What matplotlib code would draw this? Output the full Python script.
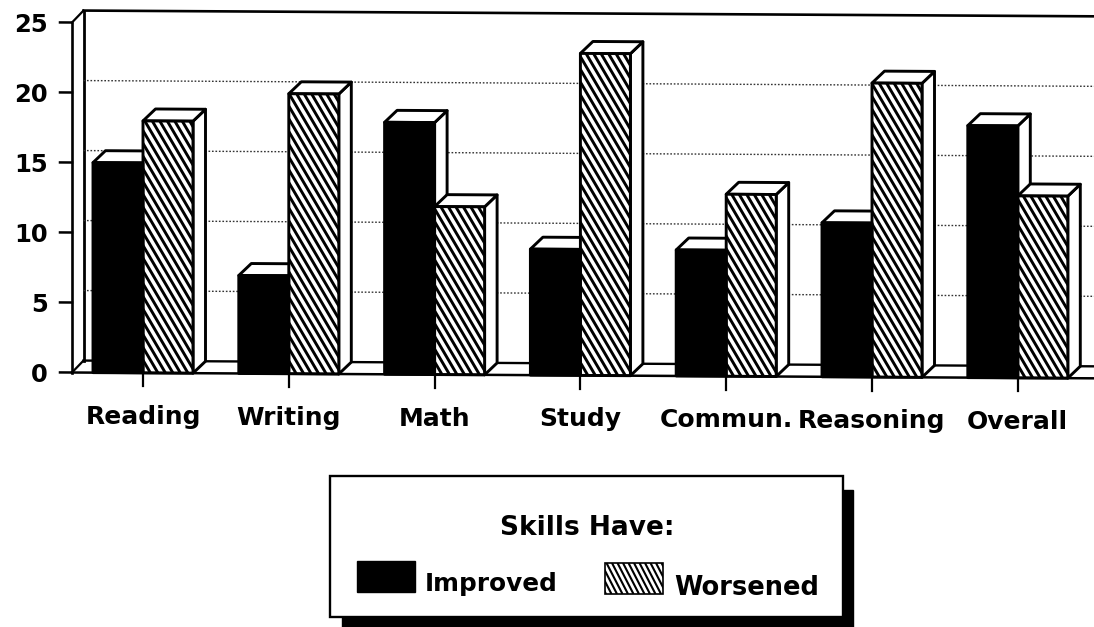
import numpy as np
import matplotlib
matplotlib.use("Agg")
import matplotlib.pyplot as plt
from matplotlib.patches import Polygon, Rectangle
from matplotlib.transforms import Affine2D

categories = ["Reading", "Writing", "Math", "Study", "Commun.", "Reasoning", "Overall"]
improved = [15, 7, 18, 9, 9, 11, 18]
worsened = [18, 20, 12, 23, 13, 21, 13]
yticks = [0, 5, 10, 15, 20, 25]
legend_title = "Skills Have:"
series_names = ["Improved", "Worsened"]

plt.rcParams["font.family"] = ["DejaVu Sans"]
plt.rcParams["font.weight"] = "bold"
W, H = 1094, 627
fig = plt.figure(figsize=(W / 100, H / 100), dpi=100)
L, R, B, T = 72, 1094, 372.5, 22.5
ax = fig.add_axes([L / W, 1 - B / H, (R - L) / W, (B - T) / H])
unit = 145.8
x0 = (143 - L) / unit
ax.set_xlim(-x0, -x0 + (R - L) / unit)
ax.set_ylim(0, 25)
ax.set_axis_off()

# the scanned page is very slightly rotated: shear everything about the origin
slope = 0.0057
shear = Affine2D(np.array([[1, 0, 0], [-slope, 1, slope * L], [0, 0, 1]], dtype=float))
tr = ax.transData + shear
kw = dict(clip_on=False, transform=tr)

ddx = 12.5 / unit
ddy = 12 / 14
wx = 11.5 / unit
wy = 12 / 14
left, right = ax.get_xlim()

# walls and floor
ax.plot([left + wx, left + wx], [wy, 25 + wy], color="k", lw=2, **kw)
ax.plot([left + wx, right], [25 + wy] * 2, color="k", lw=1.9, **kw)
ax.plot([left, left + wx], [0, wy], color="k", lw=1.6, **kw)
ax.plot([left, left], [0, 25], color="k", lw=1.9, **kw)
ax.plot([left, left + wx], [25, 25 + wy], color="k", lw=1.6, **kw)
ax.plot([left + wx, right], [wy, wy], color="k", lw=1.7, **kw)
ax.plot([left, right], [0, 0], color="k", lw=1.8, zorder=6, **kw)
for v in yticks[1:-1]:
    ax.plot([left + wx, right], [v + wy, v + wy], color="#333333", lw=1.0, ls=(0, (1.2, 1.3)), **kw)
for v in yticks:
    ax.plot([left - 12 / unit, left], [v, v], color="k", lw=1.8, **kw)
    ax.text(left - 24 / unit, v - 3 / 14, str(v), ha="right", va="center", fontsize=17.5, clip_on=False,
            transform=ax.transData)

w = 50 / unit
per = 7.5 / unit  # horizontal stripe period
stripe_slope = 1.7 * unit / 14  # data units of y per data unit of x
lw_bar = 2.1


def bar(x, v, hatch):
    ax.add_patch(Polygon([(x + w, 0), (x + w + ddx, ddy), (x + w + ddx, v + ddy), (x + w, v)],
                         fc="white", ec="k", lw=lw_bar, zorder=3, joinstyle="round", **kw))
    ax.add_patch(Polygon([(x, v), (x + ddx, v + ddy), (x + w + ddx, v + ddy), (x + w, v)],
                         fc="white", ec="k", lw=lw_bar, zorder=3, joinstyle="round", **kw))
    rect = Rectangle((x, 0), w, v, fc="white" if hatch else "k", ec="none", zorder=4, **kw)
    ax.add_patch(rect)
    if hatch:
        span = v / stripe_slope
        for s in np.arange(x - per, x + w + span + per, per):
            line, = ax.plot([s - span, s], [v, 0], color="k", lw=2.1, solid_capstyle="butt", zorder=4.1,
                            transform=tr)
            line.set_clip_on(True)
            line.set_clip_path(rect)
    ax.add_patch(Rectangle((x, 0), w, v, fc="none", ec="k", lw=lw_bar, zorder=4.5, joinstyle="round", **kw))


for i, (a, b) in enumerate(zip(improved, worsened)):
    bar(i - w, a, False)
    bar(i, b, True)
    ax.plot([i, i], [0, -13.5 / 14], color="k", lw=1.6, zorder=5, **kw)
    ax.text(i, -51 / 14, categories[i], ha="center", va="baseline", fontsize=18, clip_on=False, transform=tr)

# legend, drawn in pixel coordinates measured from the top left
px = Affine2D().scale(1, -1).translate(0, H)
ax.add_patch(Rectangle((342, 490), 511, 140, fc="k", ec="k", transform=px, clip_on=False, zorder=10))
ax.add_patch(Rectangle((330, 476), 513, 141, fc="white", ec="k", lw=1.7, transform=px, clip_on=False, zorder=11))
ax.text(587, 535, legend_title, ha="center", va="baseline", fontsize=19, transform=px, zorder=12, clip_on=False)
ax.add_patch(Rectangle((357, 561), 58, 31, fc="k", ec="k", transform=px, clip_on=False, zorder=12))
sw = Rectangle((605, 563), 58, 31, fc="white", ec="k", lw=1.2, transform=px, clip_on=False, zorder=12)
ax.add_patch(sw)
for s in np.arange(590, 680, 5.5):
    ln, = ax.plot([s, s + 16], [563, 594], color="k", lw=1.5, transform=px, zorder=12.1, solid_capstyle="butt")
    ln.set_clip_on(True)
    ln.set_clip_path(sw)
ax.text(425, 591, series_names[0], ha="left", va="baseline", fontsize=17.8, transform=px, zorder=12, clip_on=False)
ax.text(674, 595, series_names[1], ha="left", va="baseline", fontsize=18.5, transform=px, zorder=12, clip_on=False)

fig.savefig("out.png", dpi=100)
